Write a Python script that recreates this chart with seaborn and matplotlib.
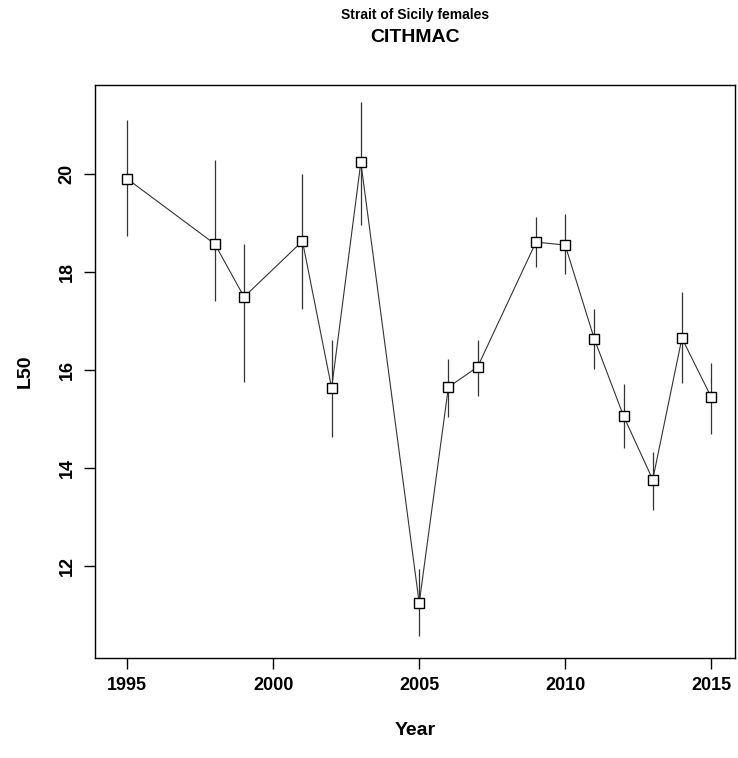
import matplotlib
matplotlib.use("Agg")
import matplotlib.pyplot as plt
import seaborn as sns
import pandas as pd

years = [1995, 1998, 1999, 2001, 2002, 2003, 2005, 2006, 2007, 2009, 2010, 2011, 2012, 2013, 2014, 2015]
l50 = [19.9, 18.57, 17.49, 18.63, 15.63, 20.24, 11.24, 15.65, 16.06, 18.61, 18.55, 16.63, 15.06, 13.76, 16.65, 15.45]
upper = [21.1, 20.29, 18.57, 20.0, 16.61, 21.47, 11.94, 16.22, 16.61, 19.12, 19.18, 17.24, 15.71, 14.33, 17.59, 16.14]
lower = [18.73, 17.41, 15.76, 17.24, 14.63, 18.96, 10.57, 15.04, 15.47, 18.10, 17.96, 16.02, 14.41, 13.14, 15.73, 14.69]
yticks = [12, 14, 16, 18, 20]
xticks = [1995, 2000, 2005, 2010, 2015]

df = pd.DataFrame({"Year": years, "L50": l50, "lo": lower, "hi": upper})

sns.set_style("white")
plt.rcParams['font.family'] = ['Liberation Sans', 'DejaVu Sans']
plt.rcParams['text.color'] = 'black'
plt.rcParams['axes.labelcolor'] = 'black'
plt.rcParams['xtick.color'] = 'black'
plt.rcParams['ytick.color'] = 'black'
fig = plt.figure(figsize=(7.38, 7.58), dpi=100)
ax = fig.add_axes([0.129, 0.132, 0.867, 0.756])
ax.vlines(df["Year"], df["lo"], df["hi"], color="#333333", linewidth=0.9)
sns.lineplot(data=df, x="Year", y="L50", ax=ax, color="#333333", linewidth=0.8,
             marker="s", markersize=7, markerfacecolor="white", markeredgecolor="black",
             markeredgewidth=1.0)
ax.set_xlim(1993.9, 2015.82)
ax.set_ylim(10.12, 21.82)
ax.set_xticks(xticks)
ax.set_yticks(yticks)
ax.set_xticklabels([str(v) for v in xticks], fontsize=13, fontweight="bold")
ax.set_yticklabels([str(v) for v in yticks], fontsize=13, fontweight="bold", rotation=90, va="center")
ax.tick_params(axis="both", direction="out", length=8, color="black", left=True, bottom=True, width=1)
ax.tick_params(axis="x", pad=6)
ax.tick_params(axis="y", pad=6)
for s in ax.spines.values():
    s.set_color("black"); s.set_linewidth(1)
ax.set_xlabel("Year", fontsize=14, fontweight="bold", labelpad=20)
ax.set_ylabel("L50", fontsize=14, fontweight="bold", labelpad=18)
fig.text(0.562, 0.98, "Strait of Sicily females", ha="center", va="center", fontsize=10, fontweight="bold")
fig.text(0.562, 0.95, "CITHMAC", ha="center", va="center", fontsize=14, fontweight="bold")
fig.savefig("out.png", dpi=100)
